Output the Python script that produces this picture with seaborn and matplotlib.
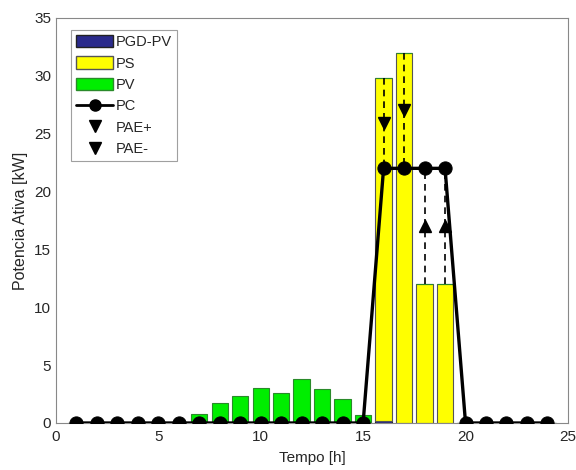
import numpy as np
import matplotlib
matplotlib.use("Agg")
import matplotlib.pyplot as plt
import seaborn as sns
import pandas as pd
from matplotlib.patches import Patch
from matplotlib.lines import Line2D

hours = list(range(1, 25))
pgd_pv = [0]*15 + [0.2] + [0]*8
ps = [0]*15 + [29.6, 32.0, 12.0, 12.0] + [0]*5
pv = [0, 0, 0, 0, 0, 0, 0.8, 1.7, 2.3, 3.05, 2.6, 3.8, 2.9, 2.05, 0.65] + [0]*9
pc = [0]*15 + [22, 22, 22, 22] + [0]*5

sns.set_style("white")
plt.rcParams['font.family'] = ['Liberation Sans', 'DejaVu Sans']

fig = plt.figure(figsize=(5.76, 4.70), dpi=100)
ax = fig.add_axes([0.097, 0.1, 0.889, 0.862])

h = np.array(hours)
b1 = np.array(pgd_pv)
b2 = np.array(ps)
b3 = np.array(pv)
w = 0.8
ax.bar(h, b1, width=w, color='#2b2b8c', edgecolor='#222222', linewidth=0.8, zorder=2)
ax.bar(h, b2, width=w, bottom=b1, color='#ffff00', edgecolor='#555555', linewidth=0.8, zorder=2)
ax.bar(h, b3, width=w, bottom=b1 + b2, color='#00ee00', edgecolor='#2a8a2a', linewidth=0.8, zorder=2)

df = pd.DataFrame({'h': hours, 'pc': pc})
sns.lineplot(data=df, x='h', y='pc', ax=ax, color='black', linewidth=2.4,
             marker='o', markersize=9.5, markeredgecolor='black', zorder=4)

top = b1 + b2 + b3
pcv = np.array(pc)
for x, t, p in zip(h, top, pcv):
    if p > 0 and t > 0:
        ax.plot([x, x], [t, p], color='black', linestyle=(0, (4, 3)), linewidth=1.2, zorder=3)
        mid = (t + p) / 2
        ax.plot([x], [mid], marker='v' if t > p else '^', color='black', markersize=8, zorder=3)

ax.set_xlim(0, 25)
ax.set_ylim(0, 35)
ax.set_xticks([0, 5, 10, 15, 20, 25])
ax.set_yticks([0, 5, 10, 15, 20, 25, 30, 35])
ax.tick_params(direction='in', length=3, color='#888888', labelsize=11, colors='#262626')
ax.tick_params(axis='x', pad=5)
for s in ax.spines.values():
    s.set_color('#888888')
    s.set_linewidth(0.8)
ax.set_xlabel('Tempo [h]', fontsize=11, color='#262626', labelpad=5)
ax.set_ylabel('Potencia Ativa [kW]', fontsize=11.5, color='#262626', labelpad=4)

handles = [
    Patch(facecolor='#2b2b8c', edgecolor='#222222', label='PGD-PV'),
    Patch(facecolor='#ffff00', edgecolor='#555555', label='PS'),
    Patch(facecolor='#00ee00', edgecolor='#2a8a2a', label='PV'),
    Line2D([0], [0], color='black', lw=2, marker='o', markersize=8, label='PC'),
    Line2D([0], [0], color='black', lw=0, marker='v', markersize=8, label='PAE+'),
    Line2D([0], [0], color='black', lw=0, marker='v', markersize=8, label='PAE-'),
]
leg = ax.legend(handles=handles, loc='upper left', bbox_to_anchor=(0.03, 0.97),
                fontsize=10.5, frameon=True, fancybox=False, edgecolor='#888888',
                handlelength=2.5, handleheight=0.9, handletextpad=0.2, labelspacing=0.5,
                borderpad=0.35, borderaxespad=0)
leg.get_frame().set_linewidth(0.8)

fig.savefig('out.png', dpi=100)
